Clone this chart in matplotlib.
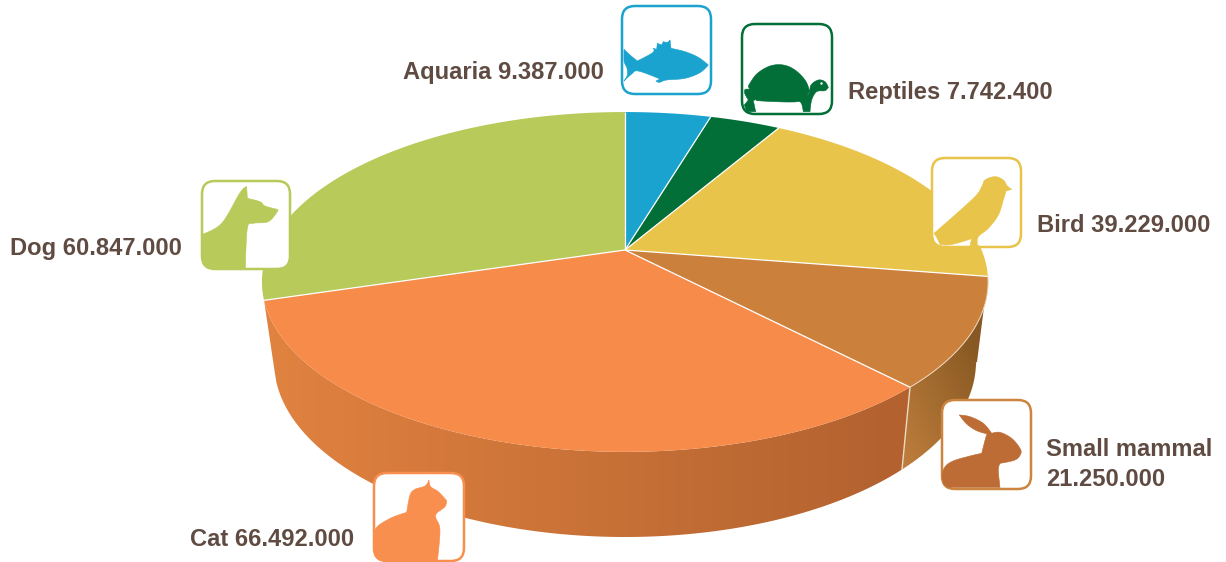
import numpy as np
import matplotlib
matplotlib.use("Agg")
import matplotlib.pyplot as plt
from matplotlib.patches import FancyBboxPatch, Polygon

# ---------- data ----------
categories = ["Aquaria", "Reptiles", "Bird", "Small mammal", "Cat", "Dog"]
values = [9387000, 7742400, 39229000, 21250000, 66492000, 60847000]
top_colors = ["#1AA3CE", "#026E38", "#E8C44A", "#CB813C", "#F78B4A", "#B7CA5A"]
text_color = "#5F4B41"

plt.rcParams["font.family"] = ["Liberation Sans", "DejaVu Sans"]
W, H = 1226, 562
fig = plt.figure(figsize=(W / 100, H / 100), dpi=100, facecolor="white")
ax = fig.add_axes([0, 0, 1, 1])
ax.set_xlim(0, W)
ax.set_ylim(H, 0)
ax.axis("off")

# ---------- perspective disc ----------
CX, CY = 625.0, 250.0
K, A, C = 356.6, -116.9, 0.188

def top(t):
    t = np.asarray(t, float)
    u, v = np.sin(t), np.cos(t)
    d = C * v + 1
    return CX + K * u / d, (A * v + CY) / d

BRX, BCY, BRY = 351.0, 362.0, 175.0

def bottom(x):
    x = np.asarray(x, float)
    return BCY + BRY * np.sqrt(np.clip(1 - ((x - CX) / BRX) ** 2, 0, 1))

frac = np.array(values, float) / sum(values)
edges = np.concatenate([[0], np.cumsum(frac)]) * 2 * np.pi

idx_small, idx_cat = 3, 4
seam_t = edges[idx_cat]
cat_end_t = edges[idx_cat + 1]
small_start_t = edges[idx_small]

def gradient_side(verts, colfunc, z):
    x0, x1 = verts[:, 0].min(), verts[:, 0].max()
    y0, y1 = verts[:, 1].min(), verts[:, 1].max()
    nx, ny = 300, 150
    xs, ys = np.meshgrid(np.linspace(x0, x1, nx), np.linspace(y0, y1, ny))
    im = ax.imshow(colfunc(xs, ys), extent=[x0, x1, y1, y0], origin="upper",
                   aspect="auto", zorder=z, interpolation="bilinear")
    clip = Polygon(verts, closed=True, transform=ax.transData, facecolor="none", edgecolor="none")
    ax.add_patch(clip)
    im.set_clip_path(clip)

def cat_colors(xs, ys):
    f = np.clip((xs - 274) / (905 - 274), 0, 1)[..., None]
    return (np.array([224, 130, 64]) * (1 - f) + np.array([178, 97, 47]) * f) / 255

def small_colors(xs, ys):
    f = np.clip(((xs - 903) / 85 + (470 - ys) / 170) / 1.6, 0, 1)[..., None]
    return (np.array([192, 127, 60]) * (1 - f) + np.array([135, 88, 35]) * f) / 255

# cat side
tt = np.linspace(seam_t, cat_end_t, 200)
tx, ty = top(tt)
sx, sy = top(seam_t)
bx = np.linspace(CX - BRX + 0.3, 902, 300)
by = bottom(bx)
gradient_side(np.vstack([np.c_[tx, ty], np.c_[bx, by]]), cat_colors, 1)

# small mammal side
tt = np.linspace(small_start_t, seam_t, 100)
tx, ty = top(tt)
bx2 = np.linspace(902, 977, 100)
by2 = bottom(bx2)
gradient_side(np.vstack([np.c_[tx, ty], np.c_[bx2, by2]]), small_colors, 1)
ax.plot([sx, 902], [sy, bottom(902)], color="#EBD9C4", lw=1.0, zorder=2)

# top face
for i, col in enumerate(top_colors):
    tt = np.linspace(edges[i], edges[i + 1], 200)
    tx, ty = top(tt)
    ax.fill(np.r_[CX, tx], np.r_[CY, ty], facecolor=col, edgecolor="none", zorder=3)
for e in edges[:-1]:
    ex, ey = top(e)
    ax.plot([CX, ex], [CY, ey], color="white", lw=0.9, zorder=4, solid_capstyle="butt")
tt = np.linspace(edges[idx_small], edges[idx_cat], 100)
ax.plot(*top(tt), color="#EBD9C4", lw=0.7, zorder=4)

# ---------- icons (outlines in 3x zoomed local pixels) ----------
fish = [(42,148),(60,165),(82,183),(128,158),(130,145),(140,148),(142,130),(155,135),(160,125),(172,127),(180,120),
        (183,145),(225,155),(265,172),(295,195),(270,218),(225,235),(170,240),(148,247),(138,243),(150,237),(85,213),
        (65,222),(42,243),(52,225),(51,205),(44,190),(42,180)]
turtle_shell = [(415,258),(440,222),(480,198),(520,195),(555,210),(585,240),(597,268),(595,280),(565,305),(440,302),(420,270)]
turtle_back = [(405,268),(425,270),(445,295),(430,302),(437,335),(410,335),(403,315),(415,300),(404,280)]
turtle_head = [(565,300),(595,283),(603,255),(625,240),(645,245),(655,262),(645,272),(620,275),(605,300),(600,335),(580,335),(575,312)]
bird = [(42,250),(160,145),(185,110),(195,90),(225,80),(250,90),(262,108),(275,118),(258,123),(250,150),(235,195),
        (205,235),(175,260),(172,285),(185,292),(150,287),(155,266),(110,280),(80,285),(60,283),(50,262)]
dog = [(36,193),(95,160),(150,68),(170,50),(172,85),(210,95),(225,108),(262,118),(262,125),(235,155),(190,160),
       (172,175),(166,297),(36,297)]
rabbit = [(238,435),(270,440),(310,460),(335,490),(360,487),(395,505),(420,535),(422,552),(405,570),(360,580),(355,600),
          (360,652),(185,652),(190,600),(215,575),(270,558),(305,550),(318,500),(322,492),(290,482),(260,462)]
cat = [(42,216),(85,178),(140,157),(150,105),(165,88),(195,78),(207,60),(212,80),(235,95),(260,122),(255,140),(230,160),
       (228,175),(240,210),(232,305),(42,305)]

def smooth(pts, corner_deg=55, n=8):
    """Closed Hermite spline; vertices that turn sharply stay corners."""
    p = np.array(pts, float)
    m = len(p)
    tang = np.zeros_like(p)
    for i in range(m):
        a, b = p[i] - p[i - 1], p[(i + 1) % m] - p[i]
        cosang = a @ b / (np.linalg.norm(a) * np.linalg.norm(b))
        if np.degrees(np.arccos(np.clip(cosang, -1, 1))) < corner_deg:
            tang[i] = 0.5 * (p[(i + 1) % m] - p[i - 1])
    out = []
    for i in range(m):
        j = (i + 1) % m
        for s in np.linspace(0, 1, n, endpoint=False):
            h00 = 2*s**3 - 3*s**2 + 1
            h10 = s**3 - 2*s**2 + s
            h01 = -2*s**3 + 3*s**2
            h11 = s**3 - s**2
            out.append(h00*p[i] + h10*tang[i] + h01*p[j] + h11*tang[j])
    return np.array(out)

icons = [
    ((622, 6, 711, 94), (610, 0), [fish], 0),
    ((742, 24, 832, 114), (610, 0), [turtle_shell, turtle_back, turtle_head], 1),
    ((932, 158, 1021, 247), (920, 150), [bird], 2),
    ((942, 400, 1031, 489), (880, 270), [rabbit], 3),
    ((374, 473, 464, 561), (360, 460), [cat], 4),
    ((202, 181, 290, 269), (190, 170), [dog], 5),
]
icon_colors = {3: ("#CC843F", "#BC6C34"), 4: ("#F98F4F", "#F98F4F")}
for (x0, y0, x1, y1), (ox, oy), shapes, ci in icons:
    edge, fill = icon_colors.get(ci, (top_colors[ci], top_colors[ci]))
    box = FancyBboxPatch((x0 + 12, y0 + 12), x1 - x0 - 24, y1 - y0 - 24,
                         boxstyle="round,pad=12,rounding_size=13", facecolor="white",
                         edgecolor=edge, lw=1.8, zorder=6)
    ax.add_patch(box)
    for s in shapes:
        pts = smooth(s) / 3 + [ox, oy]
        p = Polygon(pts, closed=True, facecolor=fill, edgecolor=fill, lw=0.4, joinstyle="round", zorder=7)
        ax.add_patch(p)
        if ci != 2:
            p.set_clip_path(box)
ax.scatter([610 + 632 / 3], [248 / 3], s=3, color="white", zorder=8, linewidths=0)

# ---------- labels ----------
def fmt(v):
    return f"{v:,}".replace(",", ".")

FS = 17.1
style = dict(fontsize=FS, fontweight="bold", color=text_color, va="center", ha="left", zorder=9)
label_pos = {"Aquaria": (403, 73), "Reptiles": (848, 92), "Bird": (1037, 226),
             "Dog": (10, 248), "Cat": (190, 539)}
for name, v in zip(categories, values):
    if name == "Small mammal":
        ax.text(1046, 450, name, **style)
        ax.text(1046, 480, fmt(v), **style)
    else:
        x, y = label_pos[name]
        ax.text(x, y, f"{name} {fmt(v)}", **style)

ax.set_xlim(0, W)
ax.set_ylim(H, 0)
fig.savefig("out.png", dpi=100, facecolor="white")
